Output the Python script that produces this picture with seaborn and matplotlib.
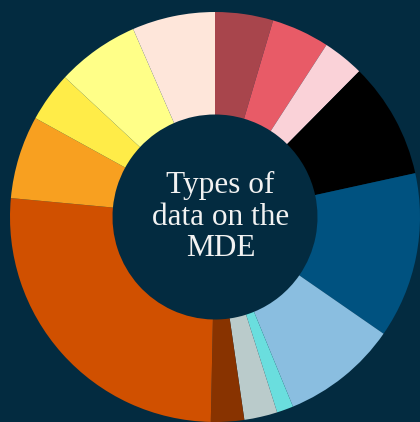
import matplotlib
matplotlib.use("Agg")
import matplotlib.pyplot as plt
import seaborn as sns

categories = ["A", "B", "C", "D", "E", "F", "G", "H", "I", "J", "K", "L", "M", "N"]
values = [7, 7, 5, 14, 20, 14, 2, 4, 4, 40, 10, 6, 10, 10]
colors = ["#A8454C", "#E85B67", "#FAD2D8", "#000000", "#005280", "#8ABEE0",
          "#6ADEDE", "#BACBCB", "#883300", "#D05000", "#F8A020", "#FFEC48",
          "#FFFF88", "#FEE6DA"]
center_text = "Types of\ndata on the\nMDE"

bg = "#032B40"
sns.set_theme(style="white")
plt.rcParams["font.family"] = ["Liberation Serif", "DejaVu Serif"]

fig = plt.figure(figsize=(4.2, 4.22), dpi=100, facecolor=bg)
ax = fig.add_axes([0, 0, 1, 1])
ax.set_facecolor(bg)

ax.pie(values, colors=sns.color_palette(colors), startangle=90, counterclock=False,
       radius=1.0, wedgeprops=dict(width=0.5, edgecolor="none", linewidth=0))

s = 205.0
ax.set_xlim(-215 / s, 205 / s)
ax.set_ylim(-205 / s, 217 / s)
ax.set_aspect("equal")
ax.axis("off")

ax.text(0.027, 0.0, center_text, ha="center", va="center", color="#F2F2F2",
        fontsize=22.5, linespacing=1.13)

fig.savefig("out.png", dpi=100, facecolor=bg)
